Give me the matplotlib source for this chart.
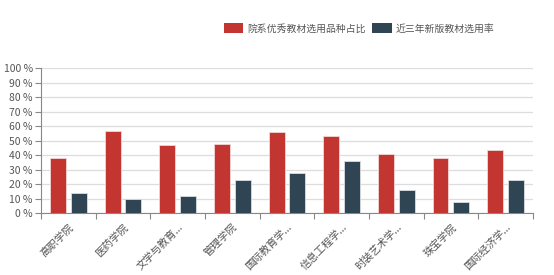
import matplotlib
matplotlib.use("Agg")
import matplotlib.pyplot as plt
from matplotlib.patches import Patch
from matplotlib.ticker import FixedLocator, NullFormatter
import numpy as np

plt.rcParams['font.family'] = ['Noto Sans CJK SC', 'DejaVu Sans']

categories = ["高职学院", "医药学院", "文学与教育...", "管理学院", "国际教育学...",
              "信息工程学...", "时装艺术学...", "珠宝学院", "国际经济学..."]
excellent = [38, 57, 47, 48, 56, 53, 41, 38, 44]
new_edition = [14, 10, 12, 23, 28, 36, 16, 8, 23]
series_names = ["院系优秀教材选用品种占比", "近三年新版教材选用率"]
colors = ["#c23531", "#2f4554"]

fig = plt.figure(figsize=(5.54, 2.75), dpi=100)
ax = fig.add_axes([0.074, 0.224, 0.888, 0.528])

x = np.arange(len(categories))
w = 0.29
ax.bar(x - 0.19, excellent, w, color=colors[0], edgecolor="#f3d6d5", linewidth=0.6, zorder=3)
ax.bar(x + 0.19, new_edition, w, color=colors[1], edgecolor="#d9dde0", linewidth=0.6, zorder=3)

ax.set_xlim(-0.5, len(categories) - 0.5)
ax.set_ylim(0, 100)
ax.set_yticks(range(0, 101, 10))
ax.set_yticklabels([f"{v} %" for v in range(0, 101, 10)], fontsize=7.5, color="#555555")
ax.yaxis.grid(True, color="#dddddd", linewidth=0.9, zorder=0)

ax.set_xticks(x)
ax.set_xticklabels(categories, rotation=45, ha="right", rotation_mode="anchor",
                   fontsize=7.5, color="#555555")
ax.tick_params(axis="x", length=0, pad=6)
ax.xaxis.set_minor_locator(FixedLocator(np.arange(-0.5, len(categories), 1.0)))
ax.xaxis.set_minor_formatter(NullFormatter())
ax.tick_params(axis="x", which="minor", length=4, color="#888888", width=0.8)
ax.tick_params(axis="y", length=4, color="#888888", width=0.8, pad=2)

for s in ["top", "right"]:
    ax.spines[s].set_visible(False)
for s in ["left", "bottom"]:
    ax.spines[s].set_color("#888888")
    ax.spines[s].set_linewidth(0.8)

handles = [Patch(facecolor=c, label=n) for c, n in zip(colors, series_names)]
fig.legend(handles=handles, loc="center", bbox_to_anchor=(0.648, 0.897), ncol=2,
           frameon=False, fontsize=7.1, handlelength=2.0, handleheight=1.1,
           handletextpad=0.4, columnspacing=0.6, labelcolor="#555555")

fig.savefig("out.png", dpi=100)
